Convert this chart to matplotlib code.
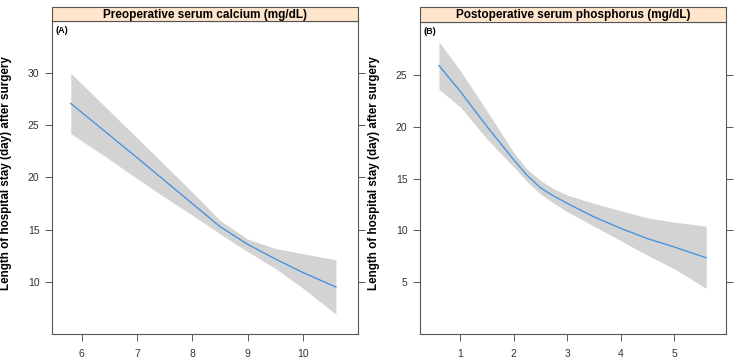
import matplotlib.pyplot as plt

plt.rcParams['font.family'] = ['Liberation Sans', 'DejaVu Sans']

# Panel A: preoperative serum calcium
ca_x = [5.8, 6.4, 7.0, 7.5, 8.0, 8.5, 9.0, 9.5, 10.0, 10.6]
ca_fit = [27.1, 24.5, 21.9, 19.7, 17.5, 15.3, 13.6, 12.2, 10.9, 9.5]
ca_upper = [30.0, 26.9, 23.8, 21.2, 18.6, 15.9, 14.1, 13.2, 12.7, 12.1]
ca_lower = [24.2, 22.1, 19.9, 18.1, 16.4, 14.6, 12.9, 11.3, 9.4, 6.9]

# Panel B: postoperative serum phosphorus
ph_x = [0.6, 1.0, 1.5, 2.0, 2.25, 2.5, 2.75, 3.0, 3.5, 4.0, 4.5, 5.0, 5.6]
ph_fit = [25.9, 23.4, 20.0, 16.8, 15.3, 14.1, 13.3, 12.6, 11.3, 10.2, 9.2, 8.4, 7.35]
ph_upper = [28.2, 25.4, 21.5, 17.5, 15.9, 14.8, 14.0, 13.4, 12.6, 11.9, 11.2, 10.8, 10.4]
ph_lower = [23.6, 21.9, 18.8, 16.1, 14.7, 13.5, 12.6, 11.8, 10.4, 9.0, 7.6, 6.3, 4.4]

panels = [
    dict(x=ca_x, fit=ca_fit, up=ca_upper, lo=ca_lower,
         title='Preoperative serum calcium (mg/dL)', tag='(A)',
         xlim=(5.46, 11.0), ylim=(5, 35),
         xticks=[6, 7, 8, 9, 10], yticks=[10, 15, 20, 25, 30],
         left=52, top=21),
    dict(x=ph_x, fit=ph_fit, up=ph_upper, lo=ph_lower,
         title='Postoperative serum phosphorus (mg/dL)', tag='(B)',
         xlim=(0.245, 5.97), ylim=(0, 30.1),
         xticks=[1, 2, 3, 4, 5], yticks=[5, 10, 15, 20, 25],
         left=420, top=22),
]

W, H = 737, 363
fig = plt.figure(figsize=(W / 100, H / 100), dpi=100)
edge = '#555555'

for p in panels:
    w = 306
    bottom = 334
    ax = fig.add_axes([p['left'] / W, (H - bottom) / H, w / W, (bottom - p['top']) / H])
    ax.fill_between(p['x'], p['lo'], p['up'], color='#d3d3d3', lw=0)
    ax.plot(p['x'], p['fit'], color='#3d8fe0', lw=0.9)
    ax.set_xlim(*p['xlim'])
    ax.set_ylim(*p['ylim'])
    ax.set_xticks(p['xticks'])
    ax.set_yticks(p['yticks'])
    ax.tick_params(direction='out', length=5, width=0.7, color=edge,
                   labelsize=7.5, labelcolor='#333333', pad=4,
                   right=True, top=False)
    ax.tick_params(axis='x', pad=6)
    for s in ax.spines.values():
        s.set_color(edge)
        s.set_linewidth(0.8)
    ax.set_ylabel('Length of hospital stay (day) after surgery',
                  fontsize=8.4, fontweight='bold', labelpad=7)
    ax.yaxis.set_label_coords(-0.13, 0.515)
    ax.text(0.01, 0.985, p['tag'], transform=ax.transAxes, fontsize=6.5,
            fontweight='bold', va='top', ha='left')

    # strip on top
    sx = fig.add_axes([p['left'] / W, (H - p['top']) / H, w / W, (p['top'] - 7) / H])
    sx.set_facecolor('#ffe5cc')
    sx.set_xticks([])
    sx.set_yticks([])
    for s in sx.spines.values():
        s.set_color(edge)
        s.set_linewidth(0.8)
    sx.text(0.5, 0.45, p['title'], transform=sx.transAxes, ha='center',
            va='center', fontsize=8.5, fontweight='bold')

fig.savefig('out.png', dpi=100)
